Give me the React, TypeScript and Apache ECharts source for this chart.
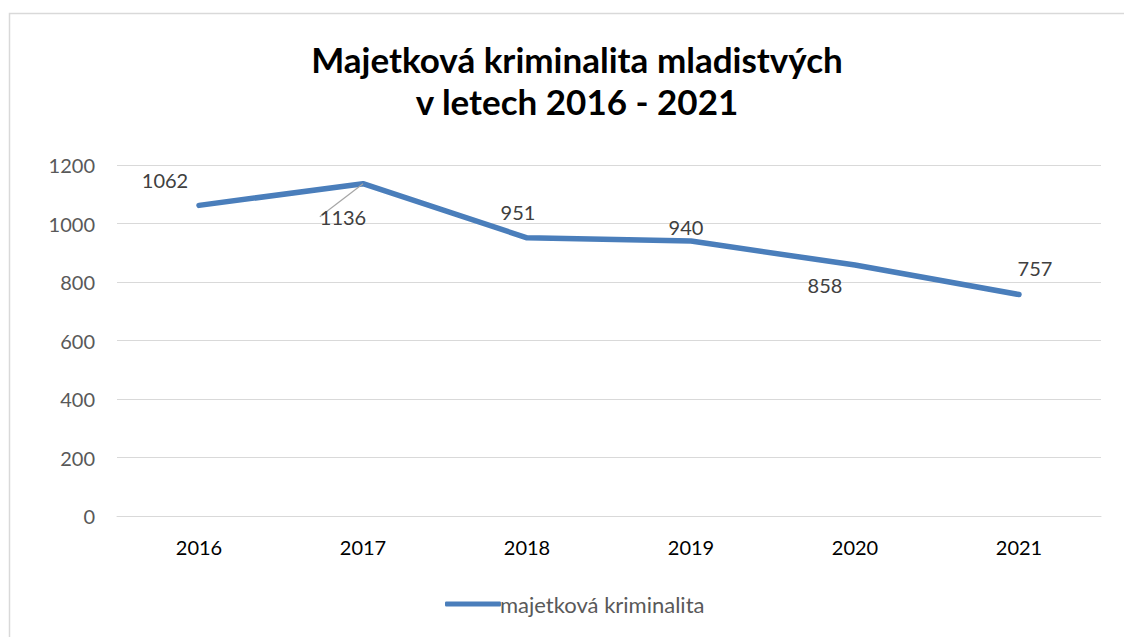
import React, { useEffect, useRef } from "react";
import * as echarts from "echarts";

const titleLines = ["Majetková kriminalita mladistvých", "v letech 2016 - 2021"];
const seriesName = "majetková kriminalita";
const years = ["2016", "2017", "2018", "2019", "2020", "2021"];
const values = [1062, 1136, 951, 940, 858, 757];
const labelShift: [number, number][] = [
  [-34, -10],
  [-20, 48],
  [-9, -11],
  [-5, 1],
  [-30, 35],
  [16, -12],
];

const FONT = "Lato, 'Open Sans', sans-serif";

export default function App() {
  const ref = useRef<HTMLDivElement>(null);
  useEffect(() => {
    if (!ref.current) return;
    const chart = echarts.init(ref.current, undefined, { renderer: "svg" });
    chart.setOption({
      animation: false,
      backgroundColor: "#ffffff",
      textStyle: { fontFamily: FONT },
      graphic: [
        {
          type: "rect",
          shape: { x: 9.5, y: 13.5, width: 1300, height: 800 },
          style: { fill: "none", stroke: "#d9d9d9", lineWidth: 1.5 },
          silent: true,
        },
      ],
      title: {
        text: titleLines.join("\n"),
        left: 572,
        top: 33,
        textAlign: "center",
        textStyle: {
          fontFamily: FONT,
          fontSize: 35,
          fontWeight: "bold",
          color: "#000000",
          lineHeight: 42,
        },
      },
      legend: {
        bottom: 17,
        left: 440,
        itemWidth: 56,
        itemHeight: 5,
        itemGap: 10,
        icon: "roundRect",
        data: [seriesName],
        textStyle: { fontFamily: FONT, fontSize: 22, color: "#595959", padding: [0, 0, 0, -6] },
      },
      grid: { left: 117, right: 23, top: 165, bottom: 121, containLabel: false },
      xAxis: {
        type: "category",
        data: years,
        boundaryGap: true,
        axisLine: { show: true, lineStyle: { color: "#d9d9d9", width: 1 } },
        axisTick: { show: false },
        axisLabel: { fontFamily: FONT, fontSize: 20, color: "#000000", margin: 21 },
      },
      yAxis: {
        type: "value",
        min: 0,
        max: 1200,
        interval: 200,
        axisLine: { show: false },
        axisTick: { show: false },
        splitLine: { lineStyle: { color: "#d9d9d9", width: 1 } },
        axisLabel: {
          fontFamily: FONT,
          fontSize: 20,
          color: "#595959",
          margin: 22,
          formatter: (v: number) => String(v),
        },
      },
      series: [
        {
          name: seriesName,
          type: "line",
          data: values.map((v, i) => ({
            value: v,
            labelLine: { show: i === 1, lineStyle: { color: "#a6a6a6", width: 1.2 } },
          })),
          showSymbol: true,
          symbol: "circle",
          symbolSize: 0,
          lineStyle: { color: "#4a7ebb", width: 5.5, cap: "round", join: "round" },
          itemStyle: { color: "#4a7ebb" },
          label: {
            show: true,
            position: "top",
            fontFamily: FONT,
            fontSize: 20,
            color: "#404040",
          },
          labelLine: { show: false },
          labelLayout: (p: any) => ({
            dx: labelShift[p.dataIndex][0],
            dy: labelShift[p.dataIndex][1],
          }),
        },
      ],
    });
    return () => chart.dispose();
  }, []);
  return (
    <div
      ref={ref}
      style={{ position: "fixed", left: 0, top: 0, width: 1124, height: 637 }}
    />
  );
}
